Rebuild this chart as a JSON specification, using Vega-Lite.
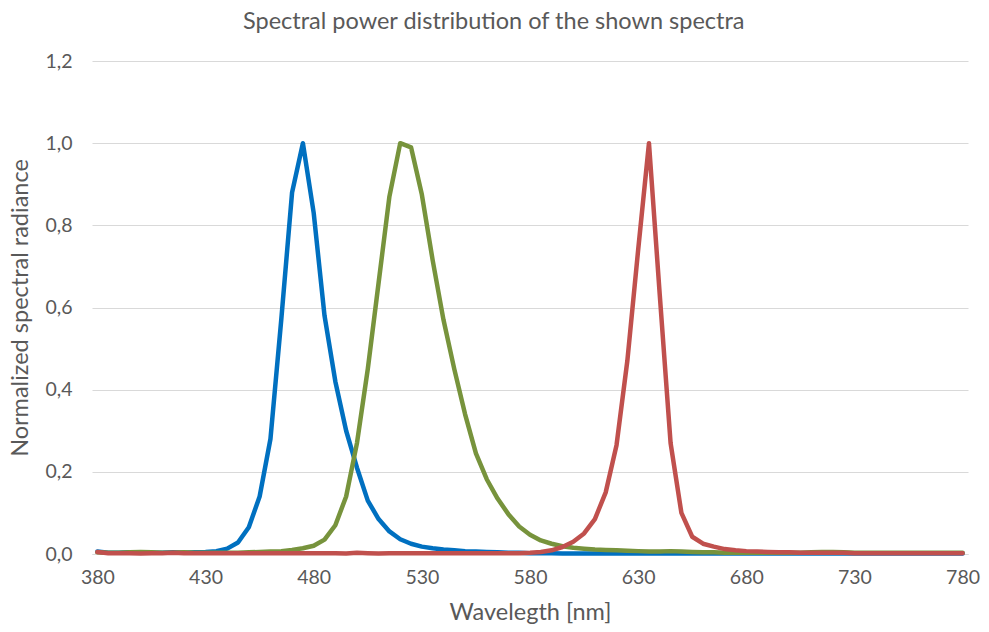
{
  "$schema": "https://vega.github.io/schema/vega-lite/v6.json",
  "width": 876,
  "height": 493,
  "autosize": {"type": "none"},
  "padding": {"left": 92, "top": 61, "right": 21, "bottom": 78},
  "background": "white",
  "title": {
    "text": "Spectral power distribution of the shown spectra",
    "font": "Lato",
    "fontSize": 23.5,
    "fontWeight": "normal",
    "color": "#595959",
    "anchor": "middle",
    "frame": "bounds",
    "offset": 18
  },
  "data": {
    "values": [
      {"w":380,"s":"Blue","v":0.006},{"w":385,"s":"Blue","v":0.003},{"w":390,"s":"Blue","v":0.003},{"w":395,"s":"Blue","v":0.004},{"w":400,"s":"Blue","v":0.004},{"w":405,"s":"Blue","v":0.003},{"w":410,"s":"Blue","v":0.003},{"w":415,"s":"Blue","v":0.004},{"w":420,"s":"Blue","v":0.003},{"w":425,"s":"Blue","v":0.004},{"w":430,"s":"Blue","v":0.005},{"w":435,"s":"Blue","v":0.007},{"w":440,"s":"Blue","v":0.013},{"w":445,"s":"Blue","v":0.028},{"w":450,"s":"Blue","v":0.065},{"w":455,"s":"Blue","v":0.14},{"w":460,"s":"Blue","v":0.28},{"w":465,"s":"Blue","v":0.57},{"w":470,"s":"Blue","v":0.88},{"w":475,"s":"Blue","v":1.0},{"w":480,"s":"Blue","v":0.83},{"w":485,"s":"Blue","v":0.58},{"w":490,"s":"Blue","v":0.42},{"w":495,"s":"Blue","v":0.3},{"w":500,"s":"Blue","v":0.21},{"w":505,"s":"Blue","v":0.13},{"w":510,"s":"Blue","v":0.085},{"w":515,"s":"Blue","v":0.055},{"w":520,"s":"Blue","v":0.036},{"w":525,"s":"Blue","v":0.025},{"w":530,"s":"Blue","v":0.018},{"w":535,"s":"Blue","v":0.014},{"w":540,"s":"Blue","v":0.011},{"w":545,"s":"Blue","v":0.009},{"w":550,"s":"Blue","v":0.007},{"w":555,"s":"Blue","v":0.006},{"w":560,"s":"Blue","v":0.005},{"w":565,"s":"Blue","v":0.004},{"w":570,"s":"Blue","v":0.003},{"w":575,"s":"Blue","v":0.003},{"w":580,"s":"Blue","v":0.002},{"w":585,"s":"Blue","v":0.002},{"w":590,"s":"Blue","v":0.002},{"w":595,"s":"Blue","v":0.001},{"w":600,"s":"Blue","v":0.001},{"w":605,"s":"Blue","v":0.001},{"w":610,"s":"Blue","v":0.001},{"w":615,"s":"Blue","v":0.001},{"w":620,"s":"Blue","v":0.001},{"w":625,"s":"Blue","v":0.001},{"w":630,"s":"Blue","v":0.001},{"w":635,"s":"Blue","v":0.001},{"w":640,"s":"Blue","v":0.001},{"w":645,"s":"Blue","v":0.001},{"w":650,"s":"Blue","v":0.001},{"w":655,"s":"Blue","v":0.001},{"w":660,"s":"Blue","v":0.001},{"w":665,"s":"Blue","v":0.001},{"w":670,"s":"Blue","v":0.001},{"w":675,"s":"Blue","v":0.001},{"w":680,"s":"Blue","v":0.001},{"w":685,"s":"Blue","v":0.001},{"w":690,"s":"Blue","v":0.001},{"w":695,"s":"Blue","v":0.001},{"w":700,"s":"Blue","v":0.001},{"w":705,"s":"Blue","v":0.001},{"w":710,"s":"Blue","v":0.001},{"w":715,"s":"Blue","v":0.001},{"w":720,"s":"Blue","v":0.001},{"w":725,"s":"Blue","v":0.001},{"w":730,"s":"Blue","v":0.001},{"w":735,"s":"Blue","v":0.001},{"w":740,"s":"Blue","v":0.001},{"w":745,"s":"Blue","v":0.001},{"w":750,"s":"Blue","v":0.001},{"w":755,"s":"Blue","v":0.001},{"w":760,"s":"Blue","v":0.001},{"w":765,"s":"Blue","v":0.001},{"w":770,"s":"Blue","v":0.001},{"w":775,"s":"Blue","v":0.001},{"w":780,"s":"Blue","v":0.001},
      {"w":380,"s":"Green","v":0.004},{"w":385,"s":"Green","v":0.003},{"w":390,"s":"Green","v":0.003},{"w":395,"s":"Green","v":0.004},{"w":400,"s":"Green","v":0.005},{"w":405,"s":"Green","v":0.004},{"w":410,"s":"Green","v":0.003},{"w":415,"s":"Green","v":0.003},{"w":420,"s":"Green","v":0.004},{"w":425,"s":"Green","v":0.003},{"w":430,"s":"Green","v":0.003},{"w":435,"s":"Green","v":0.003},{"w":440,"s":"Green","v":0.003},{"w":445,"s":"Green","v":0.003},{"w":450,"s":"Green","v":0.004},{"w":455,"s":"Green","v":0.005},{"w":460,"s":"Green","v":0.006},{"w":465,"s":"Green","v":0.007},{"w":470,"s":"Green","v":0.01},{"w":475,"s":"Green","v":0.014},{"w":480,"s":"Green","v":0.02},{"w":485,"s":"Green","v":0.035},{"w":490,"s":"Green","v":0.07},{"w":495,"s":"Green","v":0.14},{"w":500,"s":"Green","v":0.27},{"w":505,"s":"Green","v":0.45},{"w":510,"s":"Green","v":0.66},{"w":515,"s":"Green","v":0.87},{"w":520,"s":"Green","v":1.0},{"w":525,"s":"Green","v":0.99},{"w":530,"s":"Green","v":0.875},{"w":535,"s":"Green","v":0.715},{"w":540,"s":"Green","v":0.57},{"w":545,"s":"Green","v":0.45},{"w":550,"s":"Green","v":0.34},{"w":555,"s":"Green","v":0.245},{"w":560,"s":"Green","v":0.182},{"w":565,"s":"Green","v":0.135},{"w":570,"s":"Green","v":0.097},{"w":575,"s":"Green","v":0.067},{"w":580,"s":"Green","v":0.047},{"w":585,"s":"Green","v":0.033},{"w":590,"s":"Green","v":0.025},{"w":595,"s":"Green","v":0.019},{"w":600,"s":"Green","v":0.015},{"w":605,"s":"Green","v":0.013},{"w":610,"s":"Green","v":0.011},{"w":615,"s":"Green","v":0.01},{"w":620,"s":"Green","v":0.009},{"w":625,"s":"Green","v":0.008},{"w":630,"s":"Green","v":0.007},{"w":635,"s":"Green","v":0.006},{"w":640,"s":"Green","v":0.006},{"w":645,"s":"Green","v":0.007},{"w":650,"s":"Green","v":0.006},{"w":655,"s":"Green","v":0.005},{"w":660,"s":"Green","v":0.004},{"w":665,"s":"Green","v":0.004},{"w":670,"s":"Green","v":0.003},{"w":675,"s":"Green","v":0.003},{"w":680,"s":"Green","v":0.003},{"w":685,"s":"Green","v":0.003},{"w":690,"s":"Green","v":0.003},{"w":695,"s":"Green","v":0.003},{"w":700,"s":"Green","v":0.003},{"w":705,"s":"Green","v":0.003},{"w":710,"s":"Green","v":0.004},{"w":715,"s":"Green","v":0.005},{"w":720,"s":"Green","v":0.005},{"w":725,"s":"Green","v":0.004},{"w":730,"s":"Green","v":0.003},{"w":735,"s":"Green","v":0.003},{"w":740,"s":"Green","v":0.003},{"w":745,"s":"Green","v":0.003},{"w":750,"s":"Green","v":0.003},{"w":755,"s":"Green","v":0.003},{"w":760,"s":"Green","v":0.003},{"w":765,"s":"Green","v":0.003},{"w":770,"s":"Green","v":0.003},{"w":775,"s":"Green","v":0.003},{"w":780,"s":"Green","v":0.003},
      {"w":380,"s":"Red","v":0.005},{"w":385,"s":"Red","v":0.002},{"w":390,"s":"Red","v":0.002},{"w":395,"s":"Red","v":0.002},{"w":400,"s":"Red","v":0.001},{"w":405,"s":"Red","v":0.002},{"w":410,"s":"Red","v":0.002},{"w":415,"s":"Red","v":0.003},{"w":420,"s":"Red","v":0.002},{"w":425,"s":"Red","v":0.002},{"w":430,"s":"Red","v":0.002},{"w":435,"s":"Red","v":0.002},{"w":440,"s":"Red","v":0.002},{"w":445,"s":"Red","v":0.002},{"w":450,"s":"Red","v":0.002},{"w":455,"s":"Red","v":0.002},{"w":460,"s":"Red","v":0.002},{"w":465,"s":"Red","v":0.002},{"w":470,"s":"Red","v":0.002},{"w":475,"s":"Red","v":0.002},{"w":480,"s":"Red","v":0.002},{"w":485,"s":"Red","v":0.002},{"w":490,"s":"Red","v":0.002},{"w":495,"s":"Red","v":0.001},{"w":500,"s":"Red","v":0.003},{"w":505,"s":"Red","v":0.002},{"w":510,"s":"Red","v":0.001},{"w":515,"s":"Red","v":0.002},{"w":520,"s":"Red","v":0.002},{"w":525,"s":"Red","v":0.002},{"w":530,"s":"Red","v":0.002},{"w":535,"s":"Red","v":0.002},{"w":540,"s":"Red","v":0.002},{"w":545,"s":"Red","v":0.002},{"w":550,"s":"Red","v":0.002},{"w":555,"s":"Red","v":0.002},{"w":560,"s":"Red","v":0.002},{"w":565,"s":"Red","v":0.002},{"w":570,"s":"Red","v":0.002},{"w":575,"s":"Red","v":0.002},{"w":580,"s":"Red","v":0.003},{"w":585,"s":"Red","v":0.005},{"w":590,"s":"Red","v":0.009},{"w":595,"s":"Red","v":0.017},{"w":600,"s":"Red","v":0.03},{"w":605,"s":"Red","v":0.05},{"w":610,"s":"Red","v":0.085},{"w":615,"s":"Red","v":0.15},{"w":620,"s":"Red","v":0.265},{"w":625,"s":"Red","v":0.47},{"w":630,"s":"Red","v":0.74},{"w":635,"s":"Red","v":1.0},{"w":640,"s":"Red","v":0.63},{"w":645,"s":"Red","v":0.27},{"w":650,"s":"Red","v":0.1},{"w":655,"s":"Red","v":0.042},{"w":660,"s":"Red","v":0.025},{"w":665,"s":"Red","v":0.018},{"w":670,"s":"Red","v":0.012},{"w":675,"s":"Red","v":0.009},{"w":680,"s":"Red","v":0.007},{"w":685,"s":"Red","v":0.006},{"w":690,"s":"Red","v":0.005},{"w":695,"s":"Red","v":0.004},{"w":700,"s":"Red","v":0.004},{"w":705,"s":"Red","v":0.003},{"w":710,"s":"Red","v":0.003},{"w":715,"s":"Red","v":0.003},{"w":720,"s":"Red","v":0.003},{"w":725,"s":"Red","v":0.003},{"w":730,"s":"Red","v":0.002},{"w":735,"s":"Red","v":0.002},{"w":740,"s":"Red","v":0.002},{"w":745,"s":"Red","v":0.002},{"w":750,"s":"Red","v":0.002},{"w":755,"s":"Red","v":0.002},{"w":760,"s":"Red","v":0.002},{"w":765,"s":"Red","v":0.002},{"w":770,"s":"Red","v":0.002},{"w":775,"s":"Red","v":0.002},{"w":780,"s":"Red","v":0.002}
    ]
  },
  "mark": {"type": "line", "strokeWidth": 4.5, "strokeJoin": "round", "strokeCap": "round", "clip": false},
  "encoding": {
    "x": {
      "field": "w",
      "type": "quantitative",
      "scale": {"domain": [377.5, 782.5], "nice": false, "zero": false},
      "axis": {
        "values": [380, 430, 480, 530, 580, 630, 680, 730, 780],
        "title": "Wavelegth [nm]",
        "grid": false,
        "ticks": false,
        "domain": true,
        "domainColor": "#d9d9d9",
        "domainWidth": 1,
        "labelFont": "Lato",
        "labelFontSize": 19.5,
        "labelColor": "#595959",
        "labelPadding": 14,
        "titleFont": "Lato",
        "titleFontSize": 23.5,
        "titleFontWeight": "normal",
        "titleColor": "#595959",
        "titleY": 46
      }
    },
    "y": {
      "field": "v",
      "type": "quantitative",
      "scale": {"domain": [0, 1.2], "nice": false},
      "axis": {
        "values": [0, 0.2, 0.4, 0.6, 0.8, 1.0, 1.2],
        "labelExpr": "replace(format(datum.value, '.1f'), '.', ',')",
        "title": "Normalized spectral radiance",
        "grid": true,
        "gridColor": "#d9d9d9",
        "gridWidth": 1,
        "ticks": false,
        "domain": false,
        "labelFont": "Lato",
        "labelFontSize": 19.5,
        "labelColor": "#595959",
        "labelPadding": 20,
        "titleFont": "Lato",
        "titleFontSize": 23.5,
        "titleFontWeight": "normal",
        "titleColor": "#595959",
        "titleX": -60
      }
    },
    "color": {
      "field": "s",
      "type": "nominal",
      "scale": {"domain": ["Blue", "Green", "Red"], "range": ["#0070c0", "#77933c", "#c0504d"]},
      "legend": null
    }
  },
  "config": {
    "view": {"stroke": null}
  }
}
